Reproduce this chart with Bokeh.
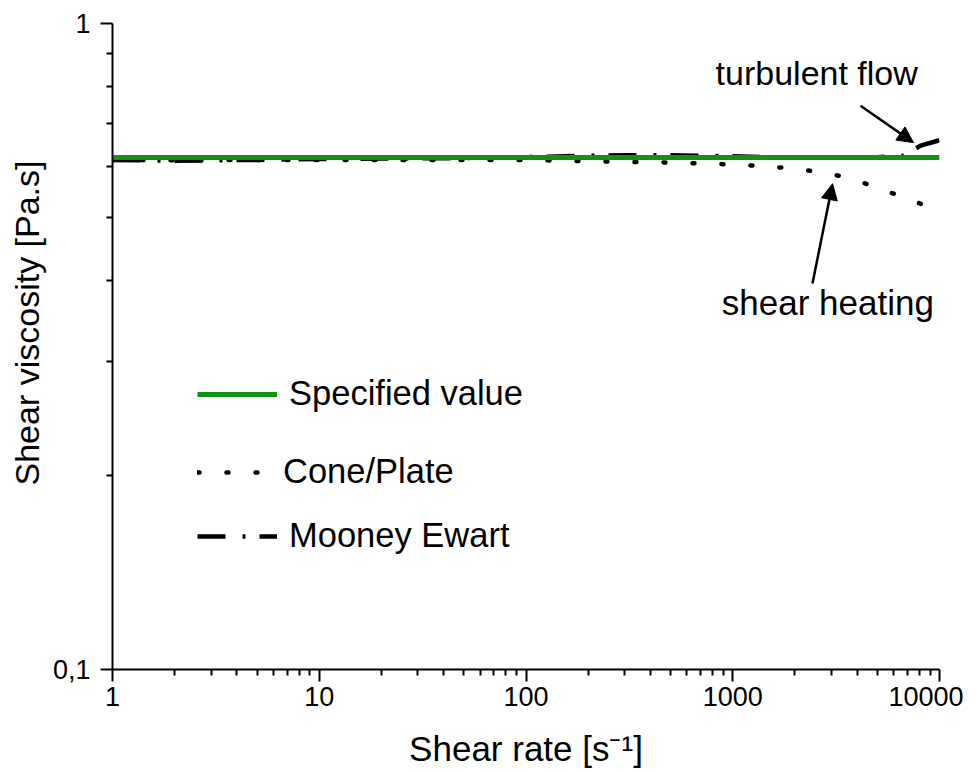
from bokeh.plotting import figure
from bokeh.models import (Range1d, FixedTicker, CustomJSTickFormatter, Legend, LegendItem,
                          Arrow, NormalHead, Label, Title)
from bokeh.embed import file_html
from bokeh.resources import INLINE

# ---- data ----
shear_rate_ticks = [1, 10, 100, 1000, 10000]
viscosity_ticks = [0.1, 1]

spec_x = [1, 10000]
spec_y = [0.62, 0.62]

cone_x = [1, 2, 5, 10, 20, 50, 100, 200, 400, 750, 1000, 1450, 2000, 2750, 3800, 5100, 7000, 9500, 10000]
cone_y = [0.615, 0.614, 0.615, 0.615, 0.615, 0.615, 0.615, 0.612, 0.610, 0.607, 0.605, 0.601, 0.596,
          0.588, 0.575, 0.555, 0.536, 0.515, 0.511]

mooney_x = [1, 1.5, 2, 3, 5, 7, 10, 20, 50, 100, 200, 300, 500, 700, 1000, 1500, 2000, 3000, 5000,
            6700, 8100, 9900, 10000]
mooney_y = [0.615, 0.614, 0.613, 0.614, 0.615, 0.616, 0.617, 0.618, 0.619, 0.621, 0.624, 0.625, 0.625,
            0.624, 0.623, 0.621, 0.620, 0.620, 0.621, 0.624, 0.647, 0.659, 0.660]

FONT = "Liberation Sans"

p = figure(x_axis_type="log", y_axis_type="log",
           x_range=Range1d(1, 10000), y_range=Range1d(0.1, 1),
           frame_width=827, frame_height=646,
           min_border_left=112, min_border_right=24, min_border_top=23, min_border_bottom=86,
           output_backend="svg", toolbar_location=None,
           x_axis_label="Shear rate [s⁻¹]")

p.xaxis.ticker = FixedTicker(ticks=shear_rate_ticks,
                             minor_ticks=[m * d for d in shear_rate_ticks[:-1] for m in range(2, 10)])
p.yaxis.ticker = FixedTicker(ticks=viscosity_ticks,
                             minor_ticks=[m * viscosity_ticks[0] for m in range(2, 10)])
p.xaxis.formatter = CustomJSTickFormatter(code="return String(tick);")
p.yaxis.formatter = CustomJSTickFormatter(code="return String(tick).replace('.', ',');")

for ax in (p.xaxis[0], p.yaxis[0]):
    ax.axis_line_width = 2
    ax.axis_line_color = "black"
    ax.major_tick_line_width = 2
    ax.minor_tick_line_width = 2
    ax.major_tick_line_color = "black"
    ax.minor_tick_line_color = "black"
    ax.major_tick_out = 12
    ax.major_tick_in = 0
    ax.minor_tick_out = 6
    ax.minor_tick_in = 0
    ax.major_label_text_font = FONT
    ax.major_label_text_font_size = "27px"
    ax.major_label_text_color = "black"
    ax.axis_label_text_font = FONT
    ax.axis_label_text_font_size = "35px"
    ax.axis_label_text_font_style = "normal"
    ax.axis_label_text_color = "black"

p.xaxis.major_label_standoff = 5
p.xaxis.axis_label_standoff = 20
p.yaxis.major_label_standoff = 10

p.grid.visible = False
p.outline_line_color = None

r_moon = p.line(mooney_x, mooney_y, line_color="black", line_width=4.5, line_dash="28 17 3 14")
r_cone = p.line(cone_x, cone_y, line_color="black", line_width=4.5, line_dash="2 27", line_cap="round")
r_spec = p.line(spec_x, spec_y, line_color="#119311", line_width=5)


def make_legend(label, renderer, loc, gw):
    leg = Legend(items=[LegendItem(label=label, renderers=[renderer])], location=loc,
                 border_line_color=None, background_fill_alpha=0, padding=0, margin=0, spacing=0,
                 glyph_width=gw, glyph_height=36, label_height=36, label_standoff=12,
                 label_text_font=FONT, label_text_font_size="34.5px", label_text_color="black")
    p.add_layout(leg)


make_legend("Specified value", r_spec, (85, 256), 80)
make_legend("Cone/Plate", r_cone, (85, 178), 74)
make_legend("Mooney Ewart", r_moon, (85, 114), 80)

p.add_layout(Arrow(end=NormalHead(size=16, fill_color="black", line_color="black"),
                   x_start=4150, y_start=0.746, x_end=7490, y_end=0.654,
                   line_width=2.5, line_color="black"))
p.add_layout(Arrow(end=NormalHead(size=16, fill_color="black", line_color="black"),
                   x_start=2430, y_start=0.396, x_end=3040, y_end=0.565,
                   line_width=2.5, line_color="black"))

p.add_layout(Label(x=826, y=0.837, text="turbulent flow", text_baseline="middle",
                   text_font=FONT, text_font_size="34px", text_color="black"))
p.add_layout(Label(x=885, y=0.370, text="shear heating", text_baseline="middle",
                   text_font=FONT, text_font_size="35px", text_color="black"))

# y-axis title as a side title, its upper end placed like the original
p.add_layout(Title(text="Shear viscosity [Pa.s]", align="right", offset=137, standoff=8,
                   text_font=FONT, text_font_size="34px", text_font_style="normal",
                   text_color="black"), "left")

open("out.html", "w").write(file_html(p, INLINE))
